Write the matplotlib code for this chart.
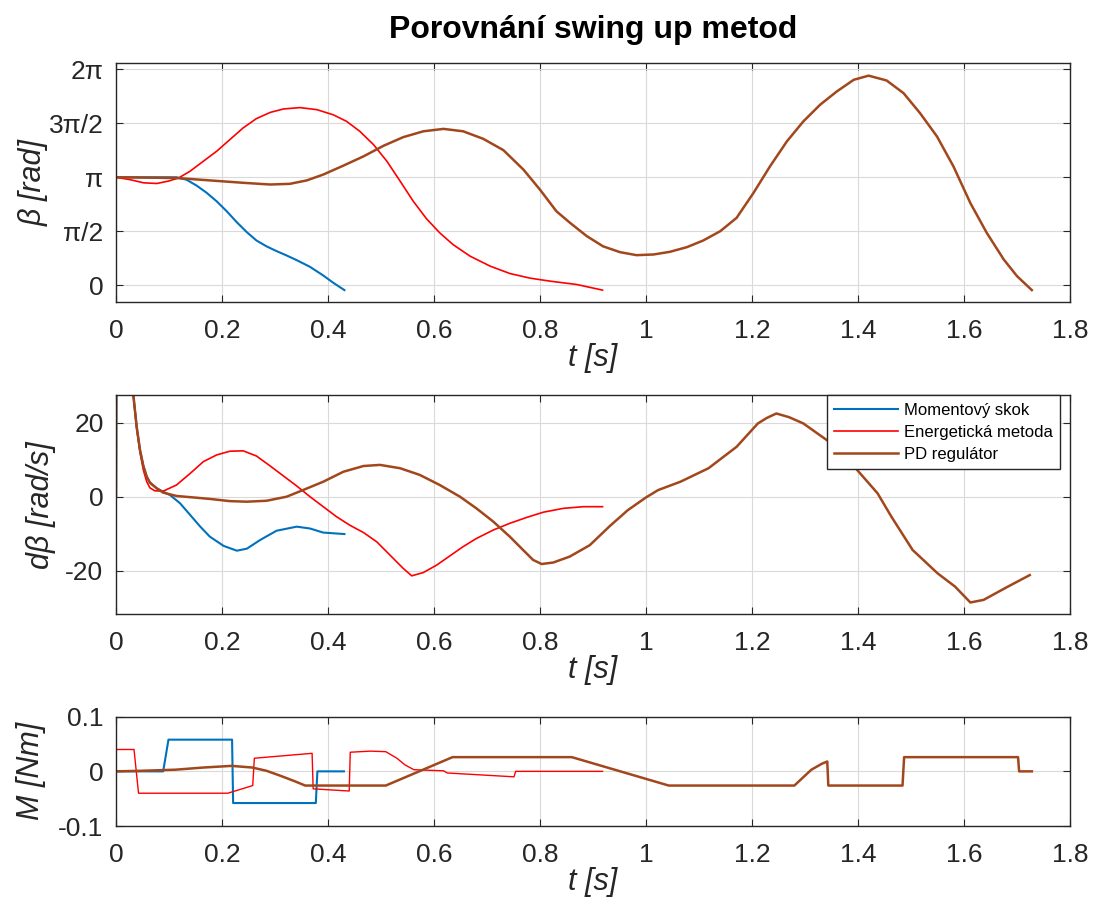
import numpy as np
import matplotlib
matplotlib.use("Agg")
import matplotlib.pyplot as plt
import matplotlib.transforms as mtransforms

plt.rcParams['font.family'] = ['Liberation Sans', 'DejaVu Sans']

# ---------------- data ----------------
# beta [rad]
t_beta_skok = [0, 0.05, 0.114, 0.133, 0.152, 0.171, 0.19, 0.209, 0.228, 0.247, 0.265, 0.284,
               0.303, 0.322, 0.341, 0.366, 0.391, 0.41, 0.431]
beta_skok = [3.1416, 3.14, 3.14, 3.07, 2.90, 2.69, 2.44, 2.15, 1.83, 1.54, 1.30, 1.13,
             0.99, 0.863, 0.727, 0.533, 0.281, 0.068, -0.145]

t_beta_en = [0, 0.027, 0.052, 0.077, 0.099, 0.118, 0.14, 0.165, 0.19, 0.215, 0.24, 0.265,
             0.291, 0.316, 0.347, 0.379, 0.41, 0.435, 0.46, 0.486, 0.511, 0.536, 0.561,
             0.586, 0.611, 0.636, 0.668, 0.706, 0.743, 0.781, 0.819, 0.869, 0.918]
beta_en = [3.1416, 3.07, 2.98, 2.96, 3.03, 3.12, 3.32, 3.61, 3.90, 4.24, 4.58, 4.85,
           5.03, 5.13, 5.17, 5.11, 4.96, 4.77, 4.48, 4.09, 3.61, 3.03, 2.44,
           1.93, 1.52, 1.18, 0.844, 0.553, 0.339, 0.204, 0.116, 0.019, -0.145]

t_beta_pd = [0, 0.114, 0.177, 0.24, 0.291, 0.328, 0.36, 0.391, 0.429, 0.467, 0.505, 0.542,
             0.58, 0.618, 0.655, 0.693, 0.731, 0.769, 0.8, 0.831, 0.857, 0.888, 0.919,
             0.951, 0.982, 1.014, 1.045, 1.077, 1.108, 1.14, 1.171, 1.203, 1.234, 1.266,
             1.297, 1.329, 1.36, 1.392, 1.42, 1.454, 1.486, 1.517, 1.549, 1.58, 1.612,
             1.643, 1.675, 1.7, 1.728]
beta_pd = [3.1416, 3.12, 3.05, 2.98, 2.93, 2.95, 3.05, 3.22, 3.48, 3.75, 4.06, 4.31,
           4.48, 4.55, 4.48, 4.26, 3.93, 3.36, 2.78, 2.15, 1.81, 1.43, 1.13,
           0.96, 0.873, 0.892, 0.97, 1.105, 1.30, 1.57, 1.96, 2.69, 3.46, 4.19,
           4.77, 5.26, 5.64, 5.98, 6.10, 5.96, 5.59, 5.01, 4.33, 3.46, 2.39,
           1.52, 0.747, 0.262, -0.145]

# d beta [rad/s]
t_dbeta_skok = [0, 0.001, 0.0327, 0.039, 0.0453, 0.0516, 0.058, 0.064, 0.077, 0.089, 0.102,
                0.121, 0.14, 0.159, 0.177, 0.203, 0.228, 0.247, 0.272, 0.303, 0.341, 0.366,
                0.391, 0.431]
dbeta_skok = [0, 60, 27.5, 18.9, 12.6, 8.3, 5.4, 3.8, 2.25, 1.35, 0.45,
              -1.8, -4.95, -8.1, -10.8, -13.3, -14.6, -14.05, -11.7, -9.2, -8.1, -8.6,
              -9.7, -10.1]

t_dbeta_en = [0, 0.001, 0.0327, 0.039, 0.0453, 0.0516, 0.058, 0.064, 0.073, 0.089, 0.114,
              0.14, 0.165, 0.19, 0.215, 0.24, 0.265, 0.291, 0.316, 0.341, 0.366, 0.391,
              0.416, 0.441, 0.467, 0.492, 0.517, 0.542, 0.558, 0.58, 0.605, 0.63, 0.655,
              0.68, 0.712, 0.743, 0.775, 0.806, 0.844, 0.882, 0.918]
dbeta_en = [0, 60, 27.5, 18.5, 12.0, 7.2, 4.05, 2.4, 1.6, 1.5, 3.15,
            6.3, 9.5, 11.3, 12.3, 12.4, 11.0, 8.3, 5.6, 2.9, 0.0, -2.7,
            -5.4, -7.7, -9.7, -12.2, -15.8, -19.4, -21.4, -20.5, -18.5, -16.0, -13.5,
            -11.3, -9.0, -7.2, -5.6, -4.2, -3.15, -2.7, -2.7]

t_dbeta_pd = [0, 0.001, 0.0327, 0.039, 0.0453, 0.0516, 0.058, 0.064, 0.077, 0.089, 0.114,
              0.146, 0.177, 0.215, 0.247, 0.284, 0.322, 0.353, 0.391, 0.429, 0.467, 0.498,
              0.536, 0.573, 0.611, 0.649, 0.68, 0.712, 0.743, 0.768, 0.787, 0.803, 0.825,
              0.856, 0.894, 0.932, 0.966, 1.0, 1.023, 1.065, 1.118, 1.171, 1.211, 1.228,
              1.246, 1.27, 1.297, 1.35, 1.39, 1.437, 1.463, 1.503, 1.55, 1.583, 1.612,
              1.637, 1.683, 1.724]
dbeta_pd = [0, 60, 27.5, 18.9, 12.6, 8.3, 5.4, 3.8, 2.25, 1.1, 0.2,
            -0.2, -0.6, -1.2, -1.35, -1.1, 0.0, 1.8, 4.05, 6.75, 8.3, 8.6,
            7.7, 5.9, 3.15, 0.0, -3.15, -6.75, -10.8, -14.4, -17.1, -18.2, -17.8,
            -16.2, -13.1, -7.9, -3.6, -0.2, 1.8, 4.05, 7.7, 13.5, 19.8, 21.3,
            22.5, 21.5, 19.8, 14.4, 8.6, 0.9, -5.4, -14.4, -20.7, -24.3, -28.6,
            -27.9, -24.3, -21.2]

# M [Nm]
t_m_skok = [0, 0.089, 0.099, 0.219, 0.221, 0.377, 0.38, 0.43]
m_skok = [0, 0, 0.058, 0.058, -0.058, -0.058, 0, 0]

t_m_en = [0, 0.034, 0.0425, 0.211, 0.258, 0.261, 0.370, 0.372, 0.440, 0.442, 0.48, 0.509,
          0.53, 0.545, 0.562, 0.618, 0.625, 0.751, 0.754, 0.918]
m_en = [0.04, 0.04, -0.04, -0.04, -0.026, 0.024, 0.033, -0.032, -0.036, 0.035, 0.037, 0.036,
        0.024, 0.012, 0.003, 0.001, -0.003, -0.01, 0, 0]

t_m_pd = [0, 0.046, 0.112, 0.165, 0.218, 0.257, 0.284, 0.31, 0.337, 0.357, 0.509, 0.635,
          0.86, 1.043, 1.28, 1.292, 1.312, 1.332, 1.342, 1.344, 1.484, 1.487, 1.702,
          1.704, 1.728]
m_pd = [0, 0.001, 0.003, 0.007, 0.010, 0.007, 0.001, -0.008, -0.018, -0.026, -0.026, 0.026,
        0.026, -0.026, -0.026, -0.015, 0.003, 0.014, 0.018, -0.026, -0.026, 0.026, 0.026,
        0, 0]

labels = ['Momentový skok', 'Energetická metoda', 'PD regulátor']
x_ticks = [0, 0.2, 0.4, 0.6, 0.8, 1.0, 1.2, 1.4, 1.6, 1.8]
x_ticklabels = ['0', '0.2', '0.4', '0.6', '0.8', '1', '1.2', '1.4', '1.6', '1.8']
beta_ticks = [0, np.pi / 2, np.pi, 3 * np.pi / 2, 2 * np.pi]
beta_ticklabels = ['0', 'π/2', 'π', '3π/2', '2π']
dbeta_ticks = [-20, 0, 20]
dbeta_ticklabels = ['-20', '0', '20']
m_ticks = [-0.1, 0, 0.1]
m_ticklabels = ['-0.1', '0', '0.1']

# ---------------- styling ----------------
C_BLUE = '#0072BD'
C_RED = '#FF0000'
C_BROWN = '#A2471C'
AX_COL = '#262626'
TICK_FS = 19
LAB_FS = 22

W, H = 1093, 911
fig = plt.figure(figsize=(W / 100, H / 100), dpi=100)

def px_axes(left, top, right, bottom):
    return fig.add_axes([left / W, 1 - bottom / H, (right - left) / W, (bottom - top) / H])

ax1 = px_axes(116, 63.3, 1070, 302.3)
ax2 = px_axes(116, 395, 1070, 614.3)
ax3 = px_axes(116, 716.7, 1070, 826)

def style(ax, yticks, yticklabels, ylim, ylabel, ylab_off):
    ax.set_xlim(0, 1.8)
    ax.set_ylim(*ylim)
    ax.set_xticks(x_ticks)
    ax.set_xticklabels(x_ticklabels)
    ax.set_yticks(yticks)
    ax.set_yticklabels(yticklabels)
    ax.grid(True, color='#dadada', linewidth=0.8)
    ax.set_axisbelow(True)
    for s in ax.spines.values():
        s.set_color(AX_COL)
        s.set_linewidth(1.0)
    ax.tick_params(direction='in', length=5, width=0.8, color=AX_COL,
                   top=True, right=True, labelsize=TICK_FS, labelcolor=AX_COL)
    ax.tick_params(axis='x', pad=12)
    ax.tick_params(axis='y', pad=9)
    ax.set_xlabel('t [s]', fontsize=LAB_FS, style='italic', color=AX_COL)
    ax.xaxis.set_label_coords(0.5, 0, transform=ax.transAxes +
                              mtransforms.ScaledTranslation(0, -0.41, fig.dpi_scale_trans))
    ax.set_ylabel(ylabel, fontsize=LAB_FS, style='italic', color=AX_COL)
    ax.yaxis.set_label_coords(0, 0.5, transform=ax.transAxes +
                              mtransforms.ScaledTranslation(ylab_off / 100, 0, fig.dpi_scale_trans))

ax1.plot(t_beta_skok, beta_skok, color=C_BLUE, lw=1.5)
ax1.plot(t_beta_en, beta_en, color=C_RED, lw=1.2)
ax1.plot(t_beta_pd, beta_pd, color=C_BROWN, lw=1.8)
style(ax1, beta_ticks, beta_ticklabels, (-0.5, 6.46), 'β [rad]', -67)
ax1.set_title('Porovnání swing up metod', fontsize=23, fontweight='bold', pad=18)

l1, = ax2.plot(t_dbeta_skok, dbeta_skok, color=C_BLUE, lw=1.5)
l2, = ax2.plot(t_dbeta_en, dbeta_en, color=C_RED, lw=1.2)
l3, = ax2.plot(t_dbeta_pd, dbeta_pd, color=C_BROWN, lw=1.8)
style(ax2, dbeta_ticks, dbeta_ticklabels, (-31.8, 27.5), 'dβ [rad/s]', -60)
leg = ax2.legend([l1, l2, l3], labels, loc='upper right',
                 bbox_to_anchor=(1 - 10 / 954, 1.0), borderaxespad=0,
                 fontsize=12, handlelength=3.8, handletextpad=0.36,
                 labelspacing=0.42, borderpad=0.45, fancybox=False,
                 framealpha=1, edgecolor=AX_COL)
leg.get_frame().set_linewidth(1.0)

ax3.plot(t_m_skok, m_skok, color=C_BLUE, lw=1.5)
ax3.plot(t_m_en, m_en, color=C_RED, lw=1.0)
ax3.plot(t_m_pd, m_pd, color=C_BROWN, lw=1.8)
style(ax3, m_ticks, m_ticklabels, (-0.1, 0.1), 'M [Nm]', -70)

fig.savefig('out.png', dpi=100)
